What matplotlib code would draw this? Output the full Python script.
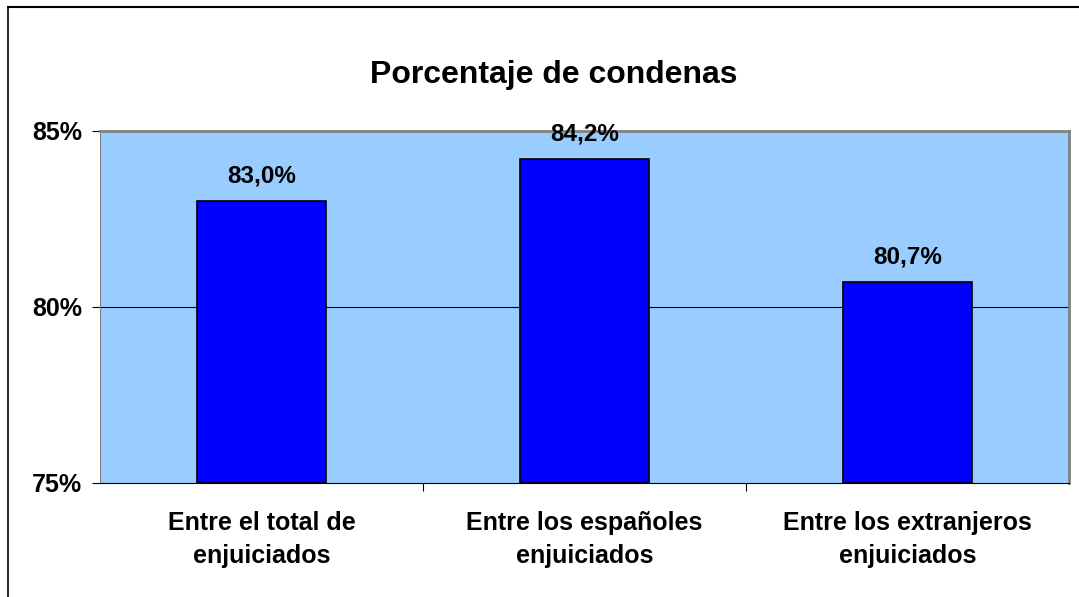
import matplotlib.pyplot as plt
from matplotlib.lines import Line2D

categories = ["Entre el total de\nenjuiciados", "Entre los españoles\nenjuiciados", "Entre los extranjeros\nenjuiciados"]
values = [83.0, 84.2, 80.7]
value_labels = ["83,0%", "84,2%", "80,7%"]
yticks = [75, 80, 85]
ytick_labels = ["75%", "80%", "85%"]

plt.rcParams['font.family'] = ['Liberation Sans', 'DejaVu Sans']

fig = plt.figure(figsize=(10.79, 5.97), dpi=100)
ax = fig.add_axes([0.0927, 0.191, 0.8980, 0.5896])
ax.set_facecolor('#99ccff')

x = range(len(categories))
ax.bar(x, [v - 75 for v in values], bottom=75, width=0.4, color='#0000ff',
       edgecolor='black', linewidth=1.2, zorder=3)
for xi, v, lab in zip(x, values, value_labels):
    ax.text(xi, v + 0.4, lab, ha='center', va='bottom', fontsize=17.5,
            fontweight='bold', zorder=4)

ax.set_xlim(-0.5, 2.5)
ax.set_ylim(75, 85)
ax.set_yticks(yticks)
ax.set_yticklabels(ytick_labels, fontsize=18, fontweight='bold')
ax.axhline(80, color='black', linewidth=0.8, zorder=2)

ax.set_xticks([0.5, 1.5])
ax.set_xticklabels([])
ax.tick_params(axis='x', direction='out', length=6, color='black')
ax.tick_params(axis='y', direction='out', length=6, pad=7)
for xi, cat in zip(x, categories):
    ax.text(xi, -0.08, cat, transform=ax.get_xaxis_transform(), ha='center',
            va='top', fontsize=18, fontweight='bold', linespacing=1.45)

ax.spines['top'].set_color('#808080')
ax.spines['right'].set_color('#808080')
ax.spines['top'].set_linewidth(2)
ax.spines['right'].set_linewidth(2)
ax.spines['left'].set_color('#808080')
ax.spines['bottom'].set_color('black')

fig.text(0.513, 0.874, "Porcentaje de condenas", ha='center', va='center',
         fontsize=23, fontweight='bold')

fig.add_artist(Line2D([0.0075, 0.0075], [0, 0.988], color='black', linewidth=1.2))
fig.add_artist(Line2D([0.0075, 1.0], [0.988, 0.988], color='black', linewidth=1.5))

fig.savefig('out.png', dpi=100)
